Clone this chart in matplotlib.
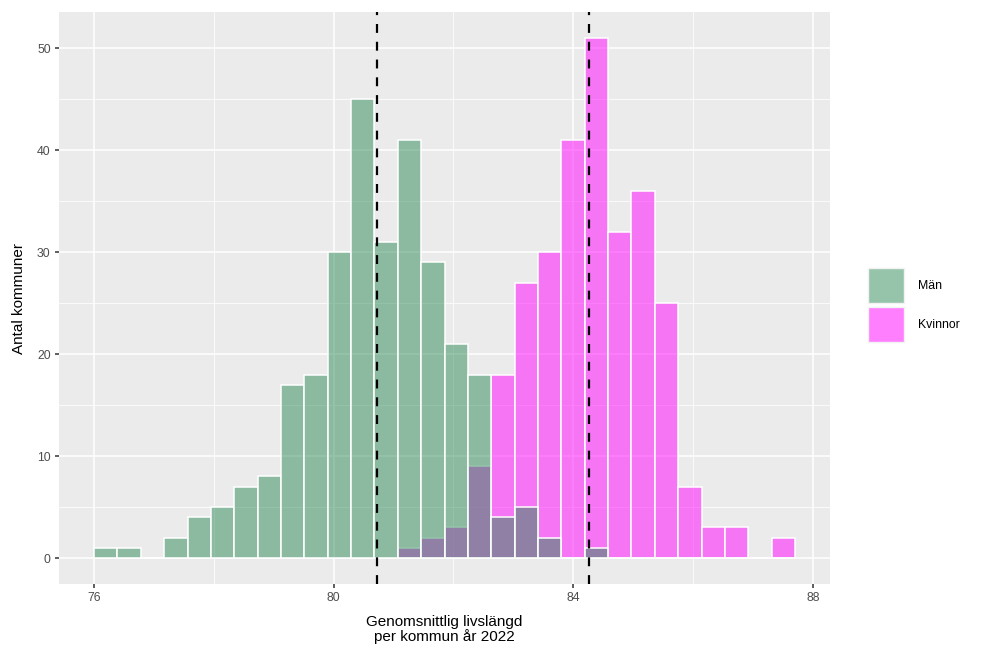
import numpy as np
import matplotlib
matplotlib.use("Agg")
import matplotlib.pyplot as plt
from matplotlib.patches import Patch
from matplotlib.colors import to_rgba

# histogram bins (30 bins, as ggplot draws them)
bin_start = 76.0
bin_width = 0.39

# number of kommuner per bin
man = [1, 1, 0, 2, 4, 5, 7, 8, 17, 18, 30, 45, 31, 41, 29, 21, 18, 4, 5, 2,
       0, 1, 0, 0, 0, 0, 0, 0, 0, 0]
kvinnor = [0, 0, 0, 0, 0, 0, 0, 0, 0, 0, 0, 0, 0, 1, 2, 3, 9, 18, 27, 30,
           41, 51, 32, 36, 25, 7, 3, 3, 0, 2]

# mean life expectancy
mean_man = 80.72
mean_kvinnor = 84.27

x_ticks = [76, 80, 84, 88]
y_ticks = [0, 10, 20, 30, 40, 50]

green = to_rgba("#2E8B57", 0.5)
pink = to_rgba("#FF00FF", 0.5)

plt.rcParams["font.family"] = ["Liberation Sans", "DejaVu Sans"]

fig = plt.figure(figsize=(9.88, 6.58), dpi=100)
ax = fig.add_axes([59 / 988, 1 - 584 / 658, (830 - 59) / 988, (584 - 12.3) / 658])
ax.set_facecolor("#EBEBEB")

lefts = bin_start + bin_width * np.arange(len(man))

# women first, men on top (gives the grey-purple overlap)
ax.bar(lefts, kvinnor, width=bin_width, align="edge", color=pink,
       edgecolor="white", linewidth=1.1, zorder=3)
ax.bar(lefts, man, width=bin_width, align="edge", color=green,
       edgecolor="white", linewidth=1.1, zorder=4)

ax.axvline(mean_man, color="black", linestyle=(0, (4, 4)), linewidth=1.6, zorder=5)
ax.axvline(mean_kvinnor, color="black", linestyle=(0, (4, 4)), linewidth=1.6, zorder=5)

xmin, xmax = bin_start, bin_start + bin_width * len(man)
xpad = (xmax - xmin) * 0.05
ax.set_xlim(xmin - xpad, xmax + xpad)
ymax = max(max(man), max(kvinnor))
ax.set_ylim(-ymax * 0.05, ymax * 1.05)

ax.set_xticks(x_ticks)
ax.set_yticks(y_ticks)
ax.set_xticks([78, 82, 86], minor=True)
ax.set_yticks([5, 15, 25, 35, 45], minor=True)
ax.grid(which="major", color="white", linewidth=1.1, zorder=0)
ax.grid(which="minor", color="white", linewidth=0.55, zorder=0)
ax.set_axisbelow(True)

for s in ax.spines.values():
    s.set_visible(False)

ax.tick_params(which="major", length=3, width=1.1, color="#333333",
               labelsize=8.8, labelcolor="#4D4D4D", pad=3)
ax.tick_params(which="minor", length=0)

ax.set_xlabel("Genomsnittlig livslängd\nper kommun år 2022", fontsize=11,
              linespacing=1.0, labelpad=8)
ax.set_ylabel("Antal kommuner", fontsize=11, labelpad=8)

handles = [Patch(facecolor=green, edgecolor="#F2F2F2", linewidth=1.0, label="Män"),
           Patch(facecolor=pink, edgecolor="#F2F2F2", linewidth=1.0, label="Kvinnor")]
fig.legend(handles=handles, loc="center left", bbox_to_anchor=(862 / 988, 1 - 305 / 658),
           frameon=False, fontsize=8.8, handlelength=2.95, handleheight=4.1,
           labelspacing=0.25, handletextpad=1.1, borderpad=0)

fig.savefig("out.png", dpi=100)
